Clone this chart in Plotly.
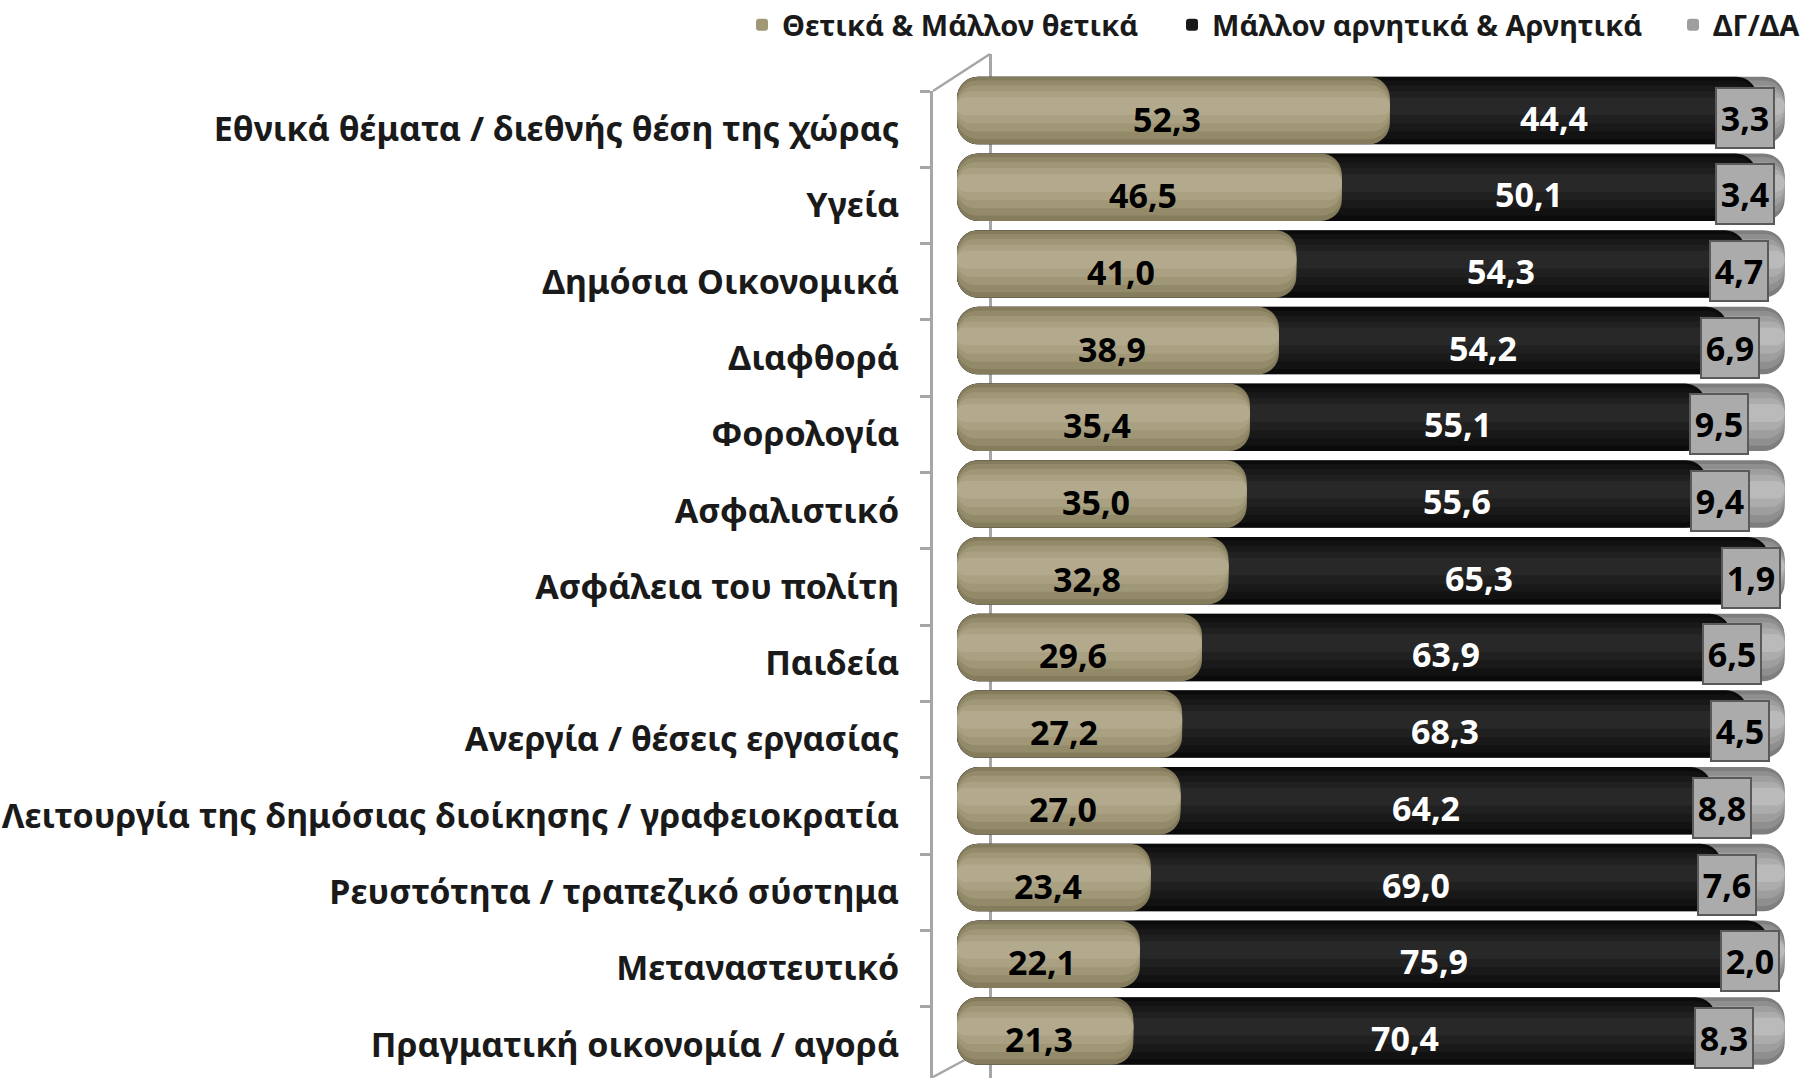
import plotly.graph_objects as go

categories = [
    "Εθνικά θέματα / διεθνής θέση της χώρας",
    "Υγεία",
    "Δημόσια Οικονομικά",
    "Διαφθορά",
    "Φορολογία",
    "Ασφαλιστικό",
    "Ασφάλεια του πολίτη",
    "Παιδεία",
    "Ανεργία / θέσεις εργασίας",
    "Λειτουργία της δημόσιας διοίκησης / γραφειοκρατία",
    "Ρευστότητα / τραπεζικό σύστημα",
    "Μεταναστευτικό",
    "Πραγματική οικονομία / αγορά",
]
positive = [52.3, 46.5, 41.0, 38.9, 35.4, 35.0, 32.8, 29.6, 27.2, 27.0, 23.4, 22.1, 21.3]
negative = [44.4, 50.1, 54.3, 54.2, 55.1, 55.6, 65.3, 63.9, 68.3, 64.2, 69.0, 75.9, 70.4]
dkna = [3.3, 3.4, 4.7, 6.9, 9.5, 9.4, 1.9, 6.5, 4.5, 8.8, 7.6, 2.0, 8.3]
series_names = ["Θετικά & Μάλλον θετικά", "Μάλλον αρνητικά & Αρνητικά", "ΔΓ/ΔΑ"]

FONT = "Noto Sans, Open Sans, DejaVu Sans, sans-serif"

# cumulative ends (bars drawn as overlapping cylinders from 0, longest first)
cum1 = positive
cum2 = [p + q for p, q in zip(positive, negative)]
cum3 = [p + q + d for p, q, d in zip(positive, negative, dkna)]

series = [  # drawn back to front
    dict(name=series_names[2], ends=cum3,
         cols=["#7E7E7E", "#8F8F8F", "#9E9E9E", "#ACACAC", "#BABABA"], legend="legend3", rank=3),
    dict(name=series_names[1], ends=cum2,
         cols=["#0A0A0A", "#121212", "#191919", "#202020", "#282828"], legend="legend2", rank=2),
    dict(name=series_names[0], ends=cum1,
         cols=["#857C5D", "#938A6A", "#A09777", "#AAA183", "#B3AA8D"], legend="legend", rank=1),
]
layer_w = [0.88, 0.76, 0.60, 0.42, 0.23]
layer_up = [0.0, 0.01, 0.025, 0.04, 0.055]
layer_r = [21, 20, 18, 14, 8]

fig = go.Figure()
for s in series:
    for li in range(len(layer_w)):
        fig.add_trace(go.Bar(
            y=categories, x=s["ends"], base=0, name=s["name"], orientation="h",
            xaxis="x", yaxis="y", width=layer_w[li],
            offset=-layer_w[li] / 2 - layer_up[li],
            marker=dict(color=s["cols"][li], line=dict(width=0), cornerradius=layer_r[li]),
            showlegend=(li == 2), legend=s["legend"], legendrank=s["rank"],
            hoverinfo="skip",
        ))

# invisible helper so the front category axis (with labels) is drawn
fig.add_trace(go.Scatter(x=[0] * len(categories), y=categories, xaxis="x2", yaxis="y2",
                         mode="markers", marker=dict(opacity=0, size=1),
                         showlegend=False, hoverinfo="skip"))

PX_CAT_BARS = 76.7
PX_CAT_FRONT = 76.3
FIRST_BAR_CENTER = 110.5
TOP = 54          # plot area top (bars / back wall)
FRONT_TOP = 91    # front axis top
H = 1078
W = 1806
plot_h = H - TOP
bar_top_val = -(FIRST_BAR_CENTER - TOP) / PX_CAT_BARS
bar_range = [bar_top_val + plot_h / PX_CAT_BARS, bar_top_val]
front_h = H - FRONT_TOP
front_range = [-0.5 + front_h / PX_CAT_FRONT, -0.5]

def fmt(v):
    return f"{v:.1f}".replace(".", ",")

annotations = []
for i, cat in enumerate(categories):
    p, q, d = positive[i], negative[i], dkna[i]
    annotations.append(dict(x=p / 2, y=cat, xref="x", yref="y", text=fmt(p),
                            showarrow=False, xshift=-6, yshift=-8,
                            font=dict(family=FONT, size=34, color="black", weight="bold")))
    annotations.append(dict(x=p + q / 2, y=cat, xref="x", yref="y", text=fmt(q),
                            showarrow=False, xshift=-20, yshift=-7,
                            font=dict(family=FONT, size=34, color="white", weight="bold")))
    annotations.append(dict(x=p + q + d / 2, y=cat, xref="x", yref="y", text=fmt(d),
                            showarrow=False, xshift=-26, yshift=-7, width=56, height=58,
                            bgcolor="#ABABAB", bordercolor="#5A5A5A", borderwidth=2, borderpad=0,
                            font=dict(family=FONT, size=34, color="black", weight="bold")))

shapes = [
    dict(type="line", xref="paper", yref="paper", x0=0, y0=front_h / plot_h, x1=0.066, y1=1.0,
         line=dict(color="#A6A6A6", width=2.5), layer="below"),
    dict(type="line", xref="paper", yref="paper", x0=0.0, y0=1 / plot_h, x1=0.043, y1=21 / plot_h,
         line=dict(color="#A6A6A6", width=2.5), layer="below"),
]

leg_common = dict(orientation="h", xanchor="left", yanchor="middle", xref="container", yref="container",
                  font=dict(family=FONT, size=29, color="#1a1a1a", weight="bold"),
                  bgcolor="rgba(0,0,0,0)", itemwidth=30)
ly = 1 - 25 / H

fig.update_layout(
    width=W, height=H,
    margin=dict(l=933, r=9, t=TOP, b=0, autoexpand=False),
    paper_bgcolor="white", plot_bgcolor="rgba(0,0,0,0)",
    barmode="overlay",
    xaxis=dict(range=[-2.9, 101.5], domain=[0, 1], anchor="y", showgrid=True, tickvals=[4.0],
               gridcolor="#A6A6A6", gridwidth=2.5, zeroline=False, showticklabels=False,
               ticks="", showline=False),
    xaxis2=dict(range=[-2.9, 101.5], domain=[0, 1], anchor="y2", visible=False),
    yaxis=dict(type="category", categoryorder="array", categoryarray=categories,
               domain=[0, 1], range=bar_range, visible=False, anchor="x"),
    yaxis2=dict(type="category", categoryorder="array", categoryarray=categories,
                domain=[0, front_h / plot_h], anchor="x2", range=front_range,
                showline=True, linecolor="#A6A6A6", linewidth=3,
                ticks="outside", tickson="boundaries", ticklen=10, tickwidth=3, tickcolor="#A6A6A6",
                ticklabelstandoff=24, showgrid=False, zeroline=False,
                tickfont=dict(family=FONT, size=34, color="#1a1a1a", weight="bold")),
    legend=dict(leg_common, x=742 / W, y=ly),
    legend2=dict(leg_common, x=1172 / W, y=ly),
    legend3=dict(leg_common, x=1673 / W, y=ly),
    annotations=annotations,
    shapes=shapes,
    showlegend=True,
)

fig.write_html("out.html", config={"displayModeBar": False},
               post_script="document.body.style.margin='0px';")
